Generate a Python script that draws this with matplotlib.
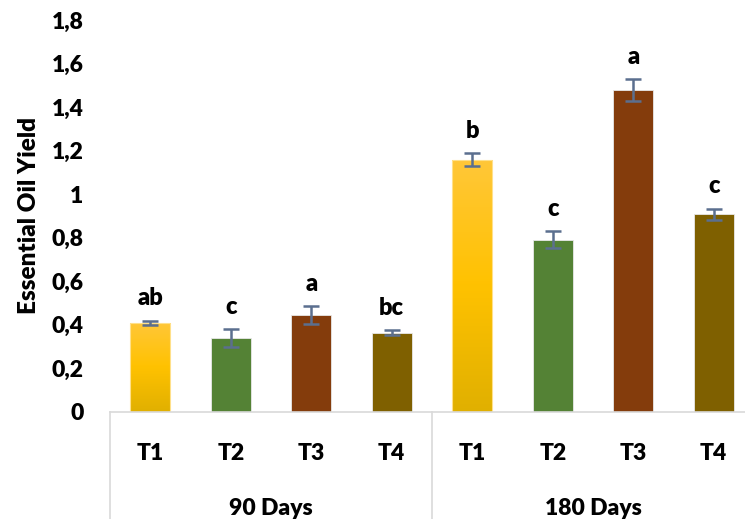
import matplotlib
matplotlib.use("Agg")
import matplotlib.pyplot as plt
import matplotlib.transforms as mtransforms
from matplotlib.lines import Line2D
import numpy as np

plt.rcParams['font.family'] = ['Lato', 'DejaVu Sans']
plt.rcParams['font.weight'] = 'bold'

groups = ["90 Days", "180 Days"]
treatments = ["T1", "T2", "T3", "T4"]
values_90 = [0.41, 0.34, 0.446, 0.364]
errors_90 = [0.01, 0.04, 0.041, 0.012]
letters_90 = ["ab", "c", "a", "bc"]
values_180 = [1.159, 0.792, 1.48, 0.907]
errors_180 = [0.029, 0.037, 0.05, 0.027]
letters_180 = ["b", "c", "a", "c"]
yticks = [0, 0.2, 0.4, 0.6, 0.8, 1.0, 1.2, 1.4, 1.6, 1.8]
ytick_labels = ["0", "0,2", "0,4", "0,6", "0,8", "1", "1,2", "1,4", "1,6", "1,8"]

colors = ["#FFC000", "#548235", "#843C0C", "#7F6000"]
err_color = "#5B6F8F"
grid_color = "#D9D9D9"
FW = "heavy"

W, H = 745, 519
fig = plt.figure(figsize=(W / 100, H / 100), dpi=100)
ax = fig.add_axes([110 / W, (H - 412) / H, 644 / W, (412 - 20) / H])

values = values_90 + values_180
errors = errors_90 + errors_180
letters = letters_90 + letters_180
labels = treatments * len(groups)
x = np.arange(len(values))
bw = 0.5

gold_grad = np.array([[1.0, 0.78, 0.22], [1.0, 0.76, 0.0], [0.88, 0.69, 0.0]])

for i, (xi, v, e, lt) in enumerate(zip(x, values, errors, letters)):
    c = colors[i % 4]
    if i % 4 == 0:
        bar = ax.bar(xi, v, width=bw, color="none", edgecolor="#FFE08A",
                     linewidth=0.8, zorder=2)[0]
        t = np.linspace(0, 1, 100)
        top, mid, bot = gold_grad
        col = np.empty((100, 1, 3))
        for k, tt in enumerate(t):
            if tt < 0.5:
                col[k, 0] = top + (mid - top) * (tt / 0.5)
            else:
                col[k, 0] = mid + (bot - mid) * ((tt - 0.5) / 0.5)
        im = ax.imshow(col, extent=[xi - bw / 2, xi + bw / 2, 0, v],
                       aspect="auto", zorder=1.5, origin="upper")
        im.set_clip_path(bar)
    else:
        ax.bar(xi, v, width=bw, color=c, edgecolor="#E8E8E8",
               linewidth=0.6, zorder=2)
    ax.errorbar(xi, v, yerr=e, fmt="none", ecolor=err_color, elinewidth=1.8,
                capsize=6, capthick=1.8, zorder=3)
    ax.annotate(lt, (xi, v + e), xytext=(0, 8), textcoords="offset points",
                ha="center", va="bottom", fontsize=17, fontweight=FW)

ax.set_xlim(-0.5, len(values) - 0.5)
ax.set_ylim(0, 1.8)
ax.set_yticks(yticks)
ax.set_yticklabels(ytick_labels, fontsize=16.5, fontweight=FW)
ax.set_xticks(x)
ax.set_xticklabels(labels, fontsize=16.5, fontweight=FW)
ax.tick_params(axis="both", length=0)
ax.tick_params(axis="x", pad=22)
ax.tick_params(axis="y", pad=19)
for s in ["top", "right", "left"]:
    ax.spines[s].set_visible(False)
ax.spines["bottom"].set_color(grid_color)
ax.spines["bottom"].set_linewidth(1.2)

ax.set_ylabel("Essential Oil Yield", fontsize=17.5, fontweight=FW, labelpad=8)

trans = mtransforms.blended_transform_factory(ax.transData, ax.transAxes)
for gi, g in enumerate(groups):
    ax.text(gi * 4 + 1.5, -0.245, g, transform=trans, ha="center", va="center",
            fontsize=16.5, fontweight=FW)
for b in range(len(groups) + 1):
    xv = b * 4 - 0.5
    ax.add_line(Line2D([xv, xv], [0, -0.3], transform=trans, color=grid_color,
                       linewidth=1.2, clip_on=False))

fig.savefig("out.png", dpi=100)
